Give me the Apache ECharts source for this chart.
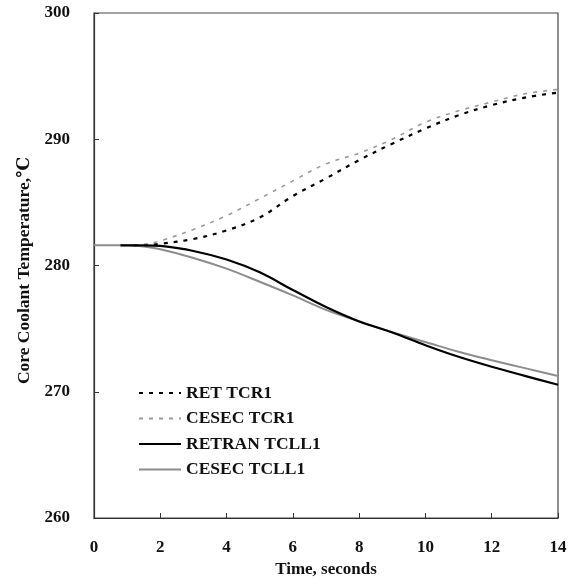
<!DOCTYPE html>
<html>
<head>
<meta charset="utf-8">
<script src="https://cdn.jsdelivr.net/npm/echarts@6/dist/echarts.min.js"></script>
<style>
html,body{margin:0;padding:0;background:#fff;}
#chart{width:568px;height:580px;}
</style>
</head>
<body>
<div id="chart"></div>
<script>
// Data
const seriesNames = ['RET TCR1', 'CESEC TCR1', 'RETRAN TCLL1', 'CESEC TCLL1'];
const xTicks = [0, 2, 4, 6, 8, 10, 12, 14];
const yTicks = [260, 270, 280, 290, 300];

const retTcr1Time = [1.2, 1.6, 2, 3, 4, 5, 6, 7, 8, 9, 10, 11, 12, 13, 14];
const retTcr1 = [281.6, 281.62, 281.72, 282.1, 282.78, 283.8, 285.5, 286.9, 288.35, 289.65, 290.85, 291.9, 292.7, 293.3, 293.7];

const cesecTcr1Time = [1.2, 1.6, 2, 3, 4, 5, 6, 7, 8, 9, 10, 11, 12, 13, 14];
const cesecTcr1 = [281.6, 281.72, 281.95, 282.85, 283.95, 285.3, 286.7, 288.05, 288.9, 290.0, 291.35, 292.25, 292.95, 293.6, 293.95];

const retranTcll1Time = [0.8, 1.5, 2, 3, 4, 5, 6, 7, 8, 9, 10, 11, 12, 13, 14];
const retranTcll1 = [281.6, 281.6, 281.55, 281.15, 280.47, 279.46, 278.06, 276.71, 275.57, 274.7, 273.69, 272.77, 271.98, 271.26, 270.55];

const cesecTcll1Time = [0, 1, 1.5, 2, 3, 4, 5, 6, 7, 8, 9, 10, 11, 12, 13, 14];
const cesecTcll1 = [281.6, 281.6, 281.5, 281.28, 280.6, 279.75, 278.71, 277.63, 276.49, 275.58, 274.71, 273.94, 273.17, 272.5, 271.87, 271.25];

function pairs(t, v) { return t.map((x, i) => [x, v[i]]); }

const serif = '"Liberation Serif", "Times New Roman", "DejaVu Serif", serif';
const chart = echarts.init(document.getElementById('chart'), null, {renderer: 'canvas'});

chart.setOption({
  animation: false,
  backgroundColor: '#ffffff',
  grid: {
    left: 94, right: 10, top: 13, bottom: 62,
    outerBoundsMode: 'none', containLabel: false,
    show: true, borderColor: '#444444', borderWidth: 1.2, backgroundColor: 'transparent'
  },
  legend: {
    orient: 'vertical',
    left: 133,
    top: 379,
    itemWidth: 42,
    itemHeight: 14,
    itemGap: 7.5,
    data: seriesNames,
    itemStyle: {opacity: 0},
    textStyle: {fontFamily: serif, fontWeight: 'bold', fontSize: 17.5, lineHeight: 17, color: '#111'}
  },
  xAxis: {
    type: 'value',
    min: 0, max: 14, interval: 2,
    name: 'Time, seconds',
    nameLocation: 'middle',
    nameGap: 43,
    nameTextStyle: {fontFamily: serif, fontWeight: 'bold', fontSize: 17, color: '#111'},
    axisLine: {show: true, lineStyle: {color: '#333', width: 1.2}},
    axisTick: {show: true, inside: true, length: 5, lineStyle: {color: '#333'}},
    axisLabel: {
      margin: 21, fontFamily: serif, fontWeight: 'bold', fontSize: 17, color: '#111',
      formatter: v => xTicks.includes(v) ? String(v) : ''
    },
    splitLine: {show: false}
  },
  yAxis: {
    type: 'value',
    min: 260, max: 300, interval: 10,
    name: 'Core Coolant Temperature,℃',
    nameLocation: 'middle',
    nameGap: 61,
    nameRotate: 90,
    nameTextStyle: {fontFamily: serif, fontWeight: 'bold', fontSize: 17.5, color: '#111', padding: [0, 10, 0, 0]},
    axisLine: {show: true, lineStyle: {color: '#333', width: 1.2}},
    axisTick: {show: true, inside: true, length: 5, lineStyle: {color: '#333'}},
    axisLabel: {
      margin: 24, fontFamily: serif, fontWeight: 'bold', fontSize: 17, color: '#111',
      formatter: v => yTicks.includes(v) ? String(v) : ''
    },
    splitLine: {show: false}
  },
  series: [
    {
      name: seriesNames[0], type: 'line', data: pairs(retTcr1Time, retTcr1),
      symbol: 'none', smooth: 0.35, z: 3,
      lineStyle: {color: '#000000', width: 2.2, type: [4, 6]},
      itemStyle: {color: '#000000'}
    },
    {
      name: seriesNames[1], type: 'line', data: pairs(cesecTcr1Time, cesecTcr1),
      symbol: 'none', smooth: 0.35, z: 3,
      lineStyle: {color: '#9a9a9a', width: 1.6, type: [4, 6]},
      itemStyle: {color: '#9a9a9a'}
    },
    {
      name: seriesNames[2], type: 'line', data: pairs(retranTcll1Time, retranTcll1),
      symbol: 'none', smooth: 0.35, z: 4,
      lineStyle: {color: '#000000', width: 2.2},
      itemStyle: {color: '#000000'}
    },
    {
      name: seriesNames[3], type: 'line', data: pairs(cesecTcll1Time, cesecTcll1),
      symbol: 'none', smooth: 0.35, z: 3,
      lineStyle: {color: '#8c8c8c', width: 2},
      itemStyle: {color: '#8c8c8c'}
    }
  ]
});
</script>
</body>
</html>
